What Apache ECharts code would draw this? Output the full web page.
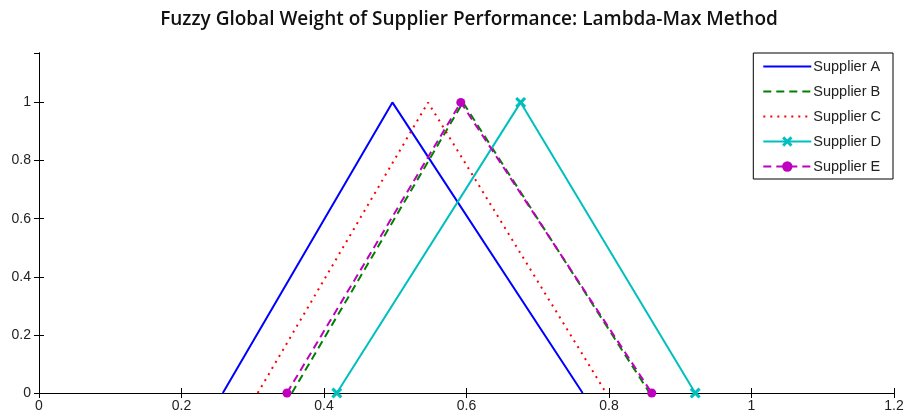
<!DOCTYPE html>
<html><head><meta charset="utf-8">
<script src="https://cdn.jsdelivr.net/npm/echarts@6/dist/echarts.min.js"></script>
<style>html,body{margin:0;padding:0;background:#fff}#c{width:908px;height:417px}</style>
</head><body><div id="c"></div>
<script>
const seriesNames = ['Supplier A','Supplier B','Supplier C','Supplier D','Supplier E'];
const xA = [0.258, 0.496, 0.763];
const xB = [0.355, 0.595, 0.857];
const xC = [0.307, 0.546, 0.796];
const xD = [0.418, 0.676, 0.921];
const xE = [0.348, 0.592, 0.860];
const yVals = [0, 1, 0];
const xTicks = [0, 0.2, 0.4, 0.6, 0.8, 1, 1.2];
const yTicks = [0, 0.2, 0.4, 0.6, 0.8, 1];

const font = 'Liberation Sans, Arial, sans-serif';
function pts(xs){ return xs.map((x,i)=>[x, yVals[i]]); }
const xMark = 'path://M2,0L5,3L8,0L10,2L7,5L10,8L8,10L5,7L2,10L0,8L3,5L0,2Z';
const styles = [
  {color:'#0000ff', type:'solid', symbol:'none'},
  {color:'#008000', type:[8,5], symbol:'none'},
  {color:'#ff0000', type:[2,5], symbol:'none'},
  {color:'#00bfbf', type:'solid', symbol:xMark, size:11},
  {color:'#bf00bf', type:[8,5], symbol:'circle', size:9}
];
const data = [xA,xB,xC,xD,xE];
const chart = echarts.init(document.getElementById('c'), null, {renderer:'canvas'});
const fmt = v => String(+v.toFixed(1));
const tick = {show:true, inside:true, length:5, lineStyle:{color:'#000'}};
chart.setOption({
  animation:false,
  title:{text:'Fuzzy Global Weight of Supplier Performance: Lambda-Max Method', left:464, top:5, textAlign:'center',
    textStyle:{fontFamily:'Open Sans, sans-serif', fontSize:19, fontWeight:600, color:'#111'}},
  grid:{left:39, right:14, top:53, bottom:24},
  legend:{orient:'vertical', right:15, top:53, itemWidth:48, itemHeight:13, itemGap:10,
    backgroundColor:'#fff', borderColor:'#000', borderWidth:1, padding:[6,12,5,9],
    textStyle:{fontFamily:font, fontSize:14.5, color:'#222', padding:[0,0,0,-3]},
    data:seriesNames.map((n,i)=> styles[i].symbol==='none' ? {name:n, itemStyle:{opacity:0}} : {name:n})},
  xAxis:[
    {type:'value', min:0, max:1.2, interval:0.2, position:'bottom',
     axisLine:{lineStyle:{color:'#000'}}, axisTick:tick,
     axisLabel:{fontFamily:font, fontSize:14, color:'#222', margin:6, formatter:fmt}, splitLine:{show:false}},
    {type:'value', min:0, max:1.2, interval:0.2, position:'top',
     axisLine:{lineStyle:{color:'#000'}}, axisTick:tick,
     axisLabel:{show:false}, splitLine:{show:false}}
  ],
  yAxis:[
    {type:'value', min:0, max:1.17, interval:0.2, position:'left',
     axisLine:{show:true, lineStyle:{color:'#000'}}, axisTick:tick,
     axisLabel:{fontFamily:font, fontSize:14, color:'#222', margin:8, showMaxLabel:false, formatter:fmt}, splitLine:{show:false}},
    {type:'value', min:0, max:1.17, interval:0.2, position:'right',
     axisLine:{show:true, lineStyle:{color:'#000'}}, axisTick:tick,
     axisLabel:{show:false}, splitLine:{show:false}}
  ],
  series: data.map((xs,i)=>({
    name:seriesNames[i], type:'line', data:pts(xs),
    symbol:styles[i].symbol, symbolSize:styles[i].size||0, showSymbol:styles[i].symbol!=='none',
    lineStyle:{color:styles[i].color, width:2, type:styles[i].type},
    itemStyle:{color:styles[i].color},
    z: i===4 ? 5 : 2
  }))
});
</script></body></html>
